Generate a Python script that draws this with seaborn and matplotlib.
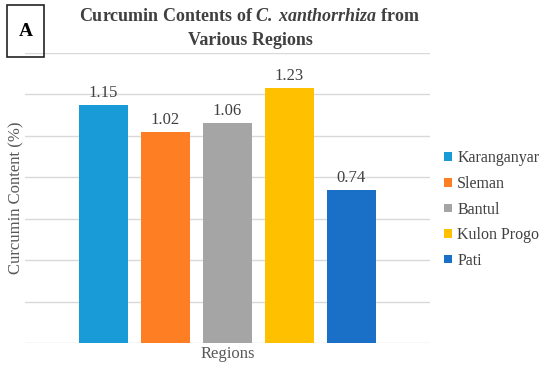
import numpy as np
import pandas as pd
import matplotlib
matplotlib.use("Agg")
import matplotlib.pyplot as plt
import seaborn as sns
from matplotlib.patches import Rectangle

regions = ["Karanganyar", "Sleman", "Bantul", "Kulon Progo", "Pati"]
curcumin = [1.15, 1.02, 1.06, 1.23, 0.74]
colors = ["#189BD7", "#FD7E23", "#A5A5A5", "#FFC000", "#1A70C6"]

df = pd.DataFrame({"group": ["Regions"] * len(regions), "region": regions, "curcumin": curcumin})

sns.set_style("white")
plt.rcParams["font.family"] = "serif"
plt.rcParams["font.serif"] = ["Liberation Serif"]
plt.rcParams["mathtext.fontset"] = "custom"
plt.rcParams["mathtext.rm"] = "Liberation Serif:bold"
plt.rcParams["mathtext.it"] = "Liberation Serif:italic"
plt.rcParams["mathtext.bf"] = "Liberation Serif:bold"
plt.rcParams["mathtext.bfit"] = "Liberation Serif:bold:italic"

fig = plt.figure(figsize=(5.5, 3.68), dpi=100)
ax = fig.add_axes([25 / 550, 1 - 343 / 368, 405 / 550, 290 / 368])

sns.barplot(data=df, x="group", y="curcumin", hue="region", hue_order=regions,
            palette=colors, width=0.765, gap=0.22, ax=ax, edgecolor="none", saturation=1)

ax.set_ylim(0, 1.4)
ax.set_yticks(np.arange(0, 1.41, 0.2))
ax.yaxis.grid(True, color="#D9D9D9", linewidth=1)
ax.set_axisbelow(True)
ax.tick_params(left=False, bottom=False, labelleft=False, labelbottom=False)
for s in ax.spines.values():
    s.set_visible(False)

for c in ax.containers:
    ax.bar_label(c, fmt="%.2f", padding=3, fontsize=12, color="#404040")

ax.set_xlabel("Regions", fontsize=12, color="#595959")
ax.xaxis.set_label_coords(0.5, -0.012, transform=ax.transAxes)
ax.xaxis.label.set_va("top")
ax.set_ylabel("Curcumin Content (%)", fontsize=12, color="#595959")
ax.yaxis.set_label_coords(-1 / 405, 0.5)

fig.text(250 / 550, 1 - 8 / 368,
         r"Curcumin Contents of $\mathbfit{C.\ xanthorrhiza}$ from" + "\nVarious Regions",
         ha="center", va="top", fontsize=13, fontweight="bold", color="#404040",
         linespacing=1.55)

fig.patches.append(Rectangle((7 / 550, 1 - 57 / 368), 37 / 550, 52 / 368,
                             transform=fig.transFigure, fill=False,
                             edgecolor="#222222", linewidth=1.2))
fig.text(25.5 / 550, 1 - 31 / 368, "A", ha="center", va="center",
         fontsize=14, fontweight="bold", color="black")

handles, labels = ax.get_legend_handles_labels()
leg = ax.legend(handles, labels, loc="center left", bbox_to_anchor=(1.0, 0.46),
                frameon=False, fontsize=11.5,
                handlelength=0.45, handleheight=0.45, handletextpad=0.35,
                labelspacing=0.6, labelcolor="#404040")

fig.savefig("out.png", dpi=100)
